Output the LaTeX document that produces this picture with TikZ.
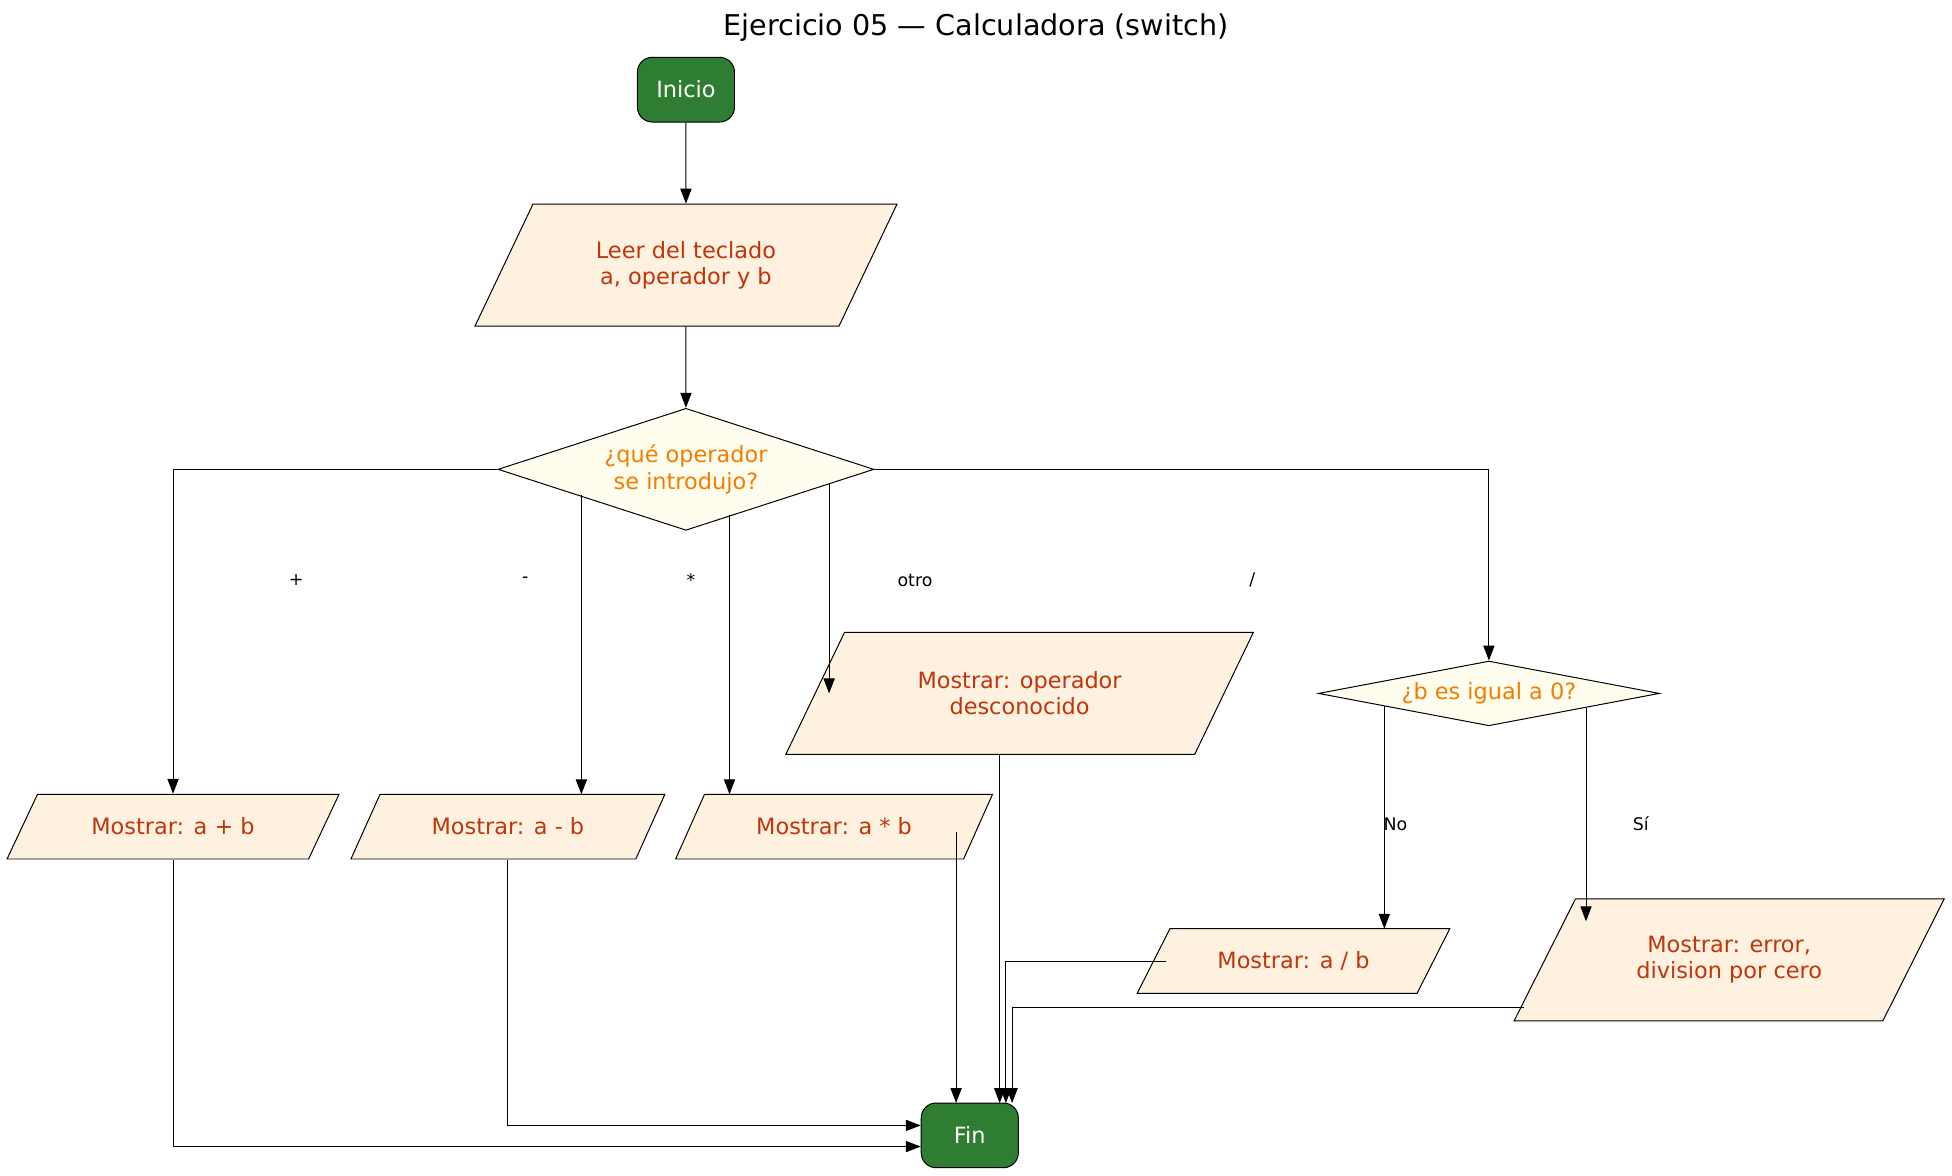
\documentclass[tikz,border=0pt]{standalone}
\usepackage{fontspec}
\setmainfont{DejaVu Sans}
\usetikzlibrary{shapes.geometric,arrows.meta}
\definecolor{termgreen}{HTML}{2E7D32}
\definecolor{iofill}{HTML}{FFF1DF}
\definecolor{iotext}{HTML}{BF360C}
\definecolor{decfill}{HTML}{FFFDEE}
\definecolor{dectext}{HTML}{F57C00}
\tikzset{
  terminal/.style={draw, rounded corners=6pt, fill=termgreen, text=white,
    minimum width=39pt, minimum height=26pt, font=\fontsize{9}{10}\selectfont},
  iobox/.style={draw, trapezium, trapezium stretches=true, fill=iofill, text=iotext,
    align=center, font=\fontsize{9}{10.5}\selectfont, inner sep=0pt},
  decision/.style={draw, diamond, fill=decfill, text=dectext, align=center,
    inner sep=0pt, font=\fontsize{9}{10.5}\selectfont},
  flow/.style={-{Triangle[length=6pt,width=4.5pt]}},
  elabel/.style={font=\fontsize{7}{8}\selectfont}
}
\begin{document}
\begin{tikzpicture}[x=0.5pt, y=-0.5pt]
\useasboundingbox (0,0) rectangle (1568,944);

\node[font=\fontsize{11.5}{13}\selectfont] (title) at (784,22) {Ejercicio 05 — Calculadora (switch)};

% nodes
\node[terminal] (inicio) at (551,72) {Inicio};
\node[iobox, minimum width=170pt, minimum height=49pt,
  trapezium left angle=54.5, trapezium right angle=125.5] (leer) at (551,213) {Leer del teclado\\a, operador y b};
\node[decision, minimum width=151pt, minimum height=49pt, aspect=3] (op) at (551,377) {¿qué operador\\se introdujo?};
\node[iobox, minimum width=134pt, minimum height=26pt,
  trapezium left angle=43.4, trapezium right angle=136.6] (suma) at (139,664) {Mostrar: a + b};
\node[iobox, minimum width=127pt, minimum height=26pt,
  trapezium left angle=45, trapezium right angle=135] (resta) at (408,664) {Mostrar: a - b};
\node[iobox, minimum width=128pt, minimum height=26pt,
  trapezium left angle=45, trapezium right angle=135] (mult) at (670,664) {Mostrar: a * b};
\node[iobox, minimum width=188pt, minimum height=49pt,
  trapezium left angle=51.8, trapezium right angle=128.2] (otro) at (819,557) {Mostrar: operador\\desconocido};
\node[decision, minimum width=137pt, minimum height=26pt, aspect=5] (cero) at (1196,557) {¿b es igual a 0?};
\node[iobox, minimum width=126pt, minimum height=26pt,
  trapezium left angle=43.4, trapezium right angle=136.6] (div) at (1039,772) {Mostrar: a / b};
\node[iobox, minimum width=173pt, minimum height=49pt,
  trapezium left angle=51.8, trapezium right angle=128.2] (error) at (1389,771) {Mostrar: error,\\division por cero};
\node[terminal] (fin) at (779,912) {Fin};

% connectors
\draw[flow] (inicio) -- (leer);
\draw[flow] (leer) -- (op);
\draw[flow] (op.west) -| (suma.north);
\draw[flow] (467,398) -- (467,638);
\draw[flow] (586,414) -- (586,638);
\draw[flow] (666,388) -- (666,557);
\draw[flow] (op.east) -| (cero.north);
\draw[flow] (1112,567) -- (1112,746);
\draw[flow] (1274,569) -- (1274,740);

\node[elabel] (lsum) at (238,466) {+};
\node[elabel] (lres) at (422,466) {-};
\node[elabel] (lmul) at (555,466) {*};
\node[elabel] (lotr) at (735,466) {otro};
\node[elabel] (ldiv) at (1006,466) {/};
\node[elabel] (lno) at (1121,662) {No};
\node[elabel] (lsi) at (1318,662) {Sí};

\draw[flow] (suma.south) |- ([yshift=-4.5pt]fin.west);
\draw[flow] (resta.south) |- ([yshift=4pt]fin.west);
\draw[flow] (768,668) -- (768,886);
\draw[flow] (803,606) -- (803,886);
\draw[flow] (937,772) -| (808,886);
\draw[flow] (1224,809) -| (813,886);
\end{tikzpicture}
\end{document}
